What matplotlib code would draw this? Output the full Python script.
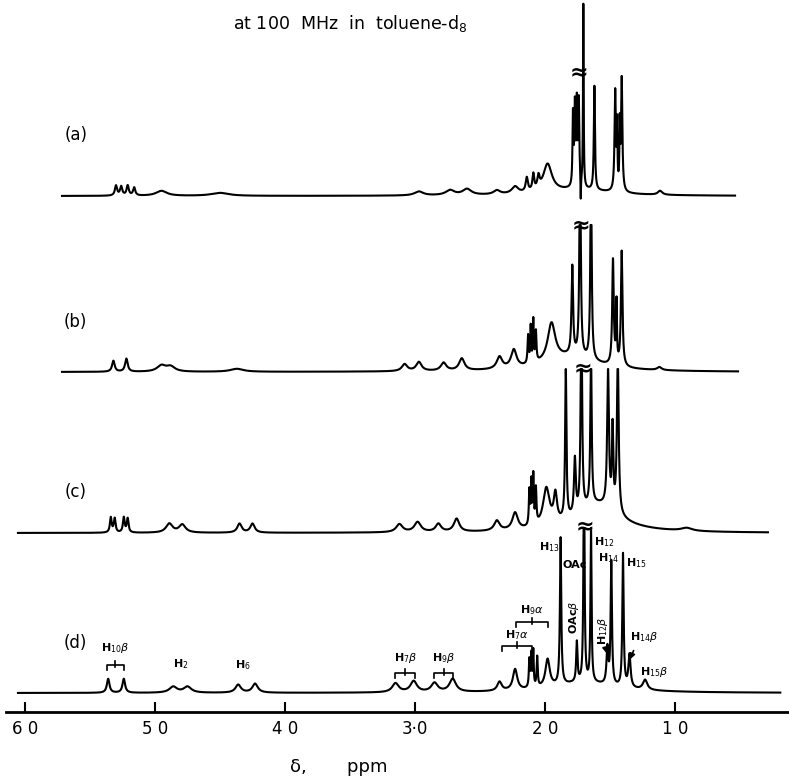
import numpy as np
import matplotlib
matplotlib.use("Agg")
import matplotlib.pyplot as plt

# peak tables: position (ppm), height (px above baseline), half width (ppm)
a_ppm = [5.30, 5.26, 5.21, 5.16, 4.95, 4.50, 2.97, 2.73, 2.60, 2.37, 2.23, 2.14, 2.09, 2.05, 1.98,
         1.785, 1.77, 1.755, 1.74, 1.705, 1.725, 1.62, 1.46, 1.445, 1.425, 1.41, 1.115, 1.75]
a_height = [10, 9, 10, 8, 5, 3, 4, 5, 6, 4, 7, 14, 16, 12, 28,
            70, 80, 78, 85, 183, -25, 104, 100, 60, 60, 113, 4, 6]
a_width = [.01, .01, .01, .01, .05, .08, .04, .04, .04, .03, .03, .01, .008, .01, .04,
           .004, .005, .004, .005, .003, .002, .005, .006, .003, .003, .006, .02, .3]

b_ppm = [5.32, 5.22, 4.95, 4.88, 4.37, 3.08, 2.97, 2.78, 2.64, 2.35, 2.24, 2.13, 2.11, 2.09, 2.07, 1.95,
         1.79, 1.73, 1.646, 1.477, 1.45, 1.41, 1.12, 1.8]
b_height = [11, 13, 6, 5, 3, 7, 9, 8, 12, 12, 18, 28, 36, 42, 30, 38,
            88, 220, 200, 105, 60, 115, 3, 15]
b_width = [.012, .012, .04, .04, .06, .025, .025, .025, .025, .025, .025, .005, .004, .004, .005, .035,
           .007, .006, .006, .007, .004, .007, .02, .25]

c_ppm = [5.34, 5.31, 5.24, 5.21, 4.89, 4.79, 4.35, 4.25, 3.12, 2.98, 2.82, 2.68, 2.37, 2.23,
         2.12, 2.105, 2.09, 2.07, 1.99, 1.92, 1.84, 1.77, 1.72, 1.646, 1.515, 1.48, 1.44, 0.91, 1.6]
c_height = [15, 14, 15, 14, 9, 8, 9, 9, 8, 10, 8, 13, 10, 17,
            35, 42, 48, 35, 38, 28, 150, 55, 230, 157, 138, 80, 158, 3, 28]
c_width = [.008, .008, .008, .008, .03, .03, .02, .02, .03, .03, .025, .025, .025, .025,
           .005, .004, .004, .005, .03, .015, .006, .008, .006, .006, .008, .006, .008, .05, .2]

d_ppm = [5.36, 5.24, 4.86, 4.75, 4.36, 4.23, 3.15, 3.01, 2.85, 2.71, 2.35, 2.23, 2.12, 2.105, 2.09, 2.06,
         1.98, 1.88, 1.755, 1.70, 1.646, 1.52, 1.49, 1.40, 1.35, 1.23, 1.7]
d_height = [14, 14, 6, 6, 8, 9, 9, 11, 9, 13, 9, 21, 28, 32, 36, 30,
            28, 147, 40, 230, 153, 36, 123, 133, 33, 10, 10]
d_width = [.012, .012, .035, .035, .025, .025, .03, .03, .03, .03, .02, .02, .005, .004, .004, .005,
           .02, .006, .006, .005, .005, .008, .006, .006, .01, .02, .3]

trace_names = ["(a)", "(b)", "(c)", "(d)"]
trace_range = [(5.715, 0.538), (5.715, 0.515), (6.054, 0.285), (6.054, 0.19)]
trace_base = [196, 372, 533, 693]
trace_cap = [None, 147, 164, 165]
label_y = [135, 322, 492, 643]
break_ppm = [1.74, 1.72, 1.71, 1.69]
break_y = [72, 225, 368, 526]

ticks = [6.0, 5.0, 4.0, 3.0, 2.0, 1.0]
tick_labels = ["6 0", "5 0", "4 0", "3·0", "2 0", "1 0"]

# bracketed assignments on trace (d): label, left ppm, right ppm, bracket y, label y
brackets = [("H$_{10}\\beta$", 5.37, 5.24, 665, 648),
            ("H$_7\\beta$", 3.15, 3.00, 673, 658),
            ("H$_9\\beta$", 2.85, 2.71, 673, 658),
            ("H$_7\\alpha$", 2.33, 2.10, 646, 635),
            ("H$_9\\alpha$", 2.22, 1.98, 622, 610)]
# plain labels on trace (d): text, ppm, y, rotation
peak_labels = [("H$_2$", 4.80, 664, 0), ("H$_6$", 4.32, 665, 0),
               ("H$_{13}$", 1.97, 547, 0), ("OAc", 1.77, 565, 0),
               ("H$_{12}$", 1.545, 542, 0), ("H$_{14}$", 1.515, 558, 0),
               ("H$_{15}$", 1.30, 563, 0), ("OAc$\\beta$", 1.775, 617, 90),
               ("H$_{12}\\beta$", 1.555, 631, 90), ("H$_{14}\\beta$", 1.24, 637, 0),
               ("H$_{15}\\beta$", 1.16, 672, 0)]


def spectrum(x, pos, hgt, wid):
    y = np.zeros_like(x)
    for p, h, w in zip(pos, hgt, wid):
        y += h * w**2 / ((x - p)**2 + w**2)
    return y


fig = plt.figure(figsize=(7.89, 7.77), dpi=100)
ax = fig.add_axes([6/789, 65/777, 783/789, 712/777])
ax.set_xlim(6.146, 0.123)
ax.set_ylim(712, 0)

tables = [(a_ppm, a_height, a_width), (b_ppm, b_height, b_width),
          (c_ppm, c_height, c_width), (d_ppm, d_height, d_width)]
for i, (pos, hgt, wid) in enumerate(tables):
    x = np.linspace(trace_range[i][0], trace_range[i][1], 14000)
    y = spectrum(x, pos, hgt, wid)
    if trace_cap[i] is not None:
        y = np.minimum(y, trace_cap[i])
    ax.plot(x, trace_base[i] - y, color="black", lw=1.5, solid_joinstyle="round")
    ax.text(5.61, label_y[i], trace_names[i], fontsize=12, ha="center", va="center")
    ax.text(break_ppm[i], break_y[i], "≈", fontsize=16, fontweight="bold",
            ha="center", va="center")

for lab, left, right, yb, yl in brackets:
    mid = (left + right) / 2
    ax.plot([left, left, right, right], [yb + 5, yb, yb, yb + 5], color="black", lw=1.2)
    ax.plot([mid, mid], [yb - 4, yb + 2], color="black", lw=1.2)
    ax.text(mid, yl, lab, fontsize=8, fontweight="bold", ha="center", va="center")

for lab, p, yl, rot in peak_labels:
    ax.text(p, yl, lab, fontsize=8, fontweight="bold", ha="center", va="center", rotation=rot)

ax.annotate("", xy=(1.52, 656), xytext=(1.54, 646),
            arrowprops=dict(arrowstyle="-|>", color="black", lw=1.2, mutation_scale=8))
ax.annotate("", xy=(1.355, 662), xytext=(1.31, 648),
            arrowprops=dict(arrowstyle="-|>", color="black", lw=1.2, mutation_scale=8))

for s in ["top", "left", "right"]:
    ax.spines[s].set_visible(False)
ax.spines["bottom"].set_linewidth(2)
ax.set_yticks([])
ax.set_xticks(ticks)
ax.set_xticklabels(tick_labels, fontsize=12)
ax.tick_params(axis="x", direction="in", length=7, width=1.5, pad=6)

fig.text(350/789, 1 - 23/777, "at 100  MHz  in  toluene-d$_8$", fontsize=12.5,
         ha="center", va="center")
fig.text(290/789, 1 - 767/777, "δ,       ppm", fontsize=13, ha="left", va="center")

fig.savefig("out.png", dpi=100)
